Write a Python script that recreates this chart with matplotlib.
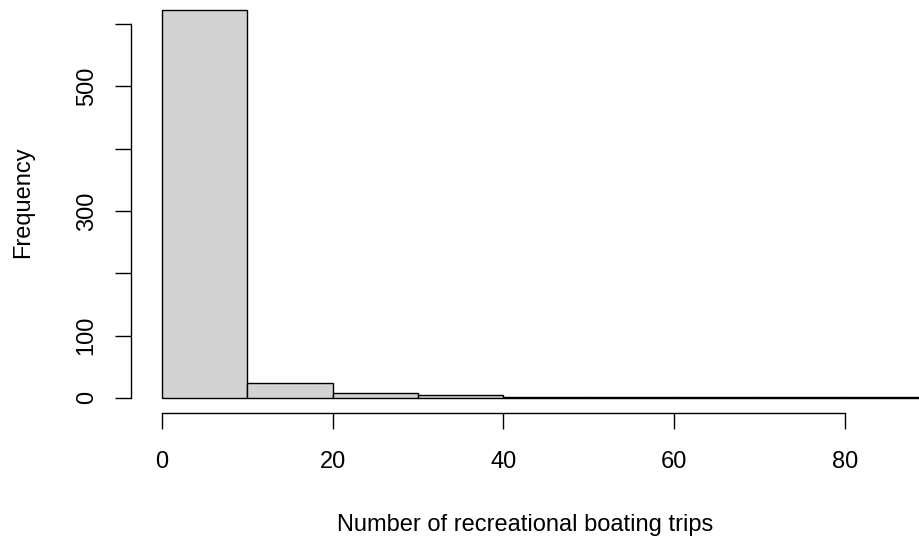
import matplotlib
matplotlib.use("Agg")
import matplotlib.pyplot as plt

# data: histogram bins (left edges) and counts
bin_edges = [0, 10, 20, 30, 40, 50, 60, 70, 80, 90]
counts = [622, 24, 7, 4, 2, 1, 1, 1, 2]
x_ticks = [0, 20, 40, 60, 80]
y_ticks = [0, 100, 200, 300, 400, 500, 600]
y_tick_labels = ["0", "100", "", "300", "", "500", ""]
x_label = "Number of recreational boating trips"
y_label = "Frequency"

plt.rcParams['font.family'] = ['Liberation Sans', 'DejaVu Sans']
FS = 17

fig = plt.figure(figsize=(9.2, 5.4), dpi=100)
W, H = 920, 540
left_px, right_px = 131, 961
bottom_px, top_px = 413.3, -5
ax = fig.add_axes([left_px / W, 1 - bottom_px / H,
                   (right_px - left_px) / W, (bottom_px - top_px) / H])

widths = [bin_edges[i + 1] - bin_edges[i] for i in range(len(counts))]
ax.bar(bin_edges[:-1], counts, width=widths, align='edge',
       color='#d3d3d3', edgecolor='black', linewidth=1.0)

xr = bin_edges[-1] - bin_edges[0]
ax.set_xlim(bin_edges[0] - 0.04 * xr, bin_edges[-1] + 0.04 * xr)
yr = max(counts)
ax.set_ylim(-0.04 * yr, yr * 1.04)

for s in ['top', 'right']:
    ax.spines[s].set_visible(False)
ax.spines['left'].set_bounds(y_ticks[0], y_ticks[-1])
ax.spines['bottom'].set_bounds(x_ticks[0], x_ticks[-1])
for s in ['left', 'bottom']:
    ax.spines[s].set_linewidth(1.0)

ax.set_xticks(x_ticks)
ax.set_xticklabels([str(v) for v in x_ticks])
ax.set_yticks(y_ticks)
ax.set_yticklabels(y_tick_labels, rotation=90, va='center')
ax.tick_params(axis='both', length=11.5, width=1.0, labelsize=FS, colors='black')
ax.tick_params(axis='x', pad=16)
ax.tick_params(axis='y', pad=12.5)

fig.text(23 / W, 1 - 202.5 / H, y_label, rotation=90, ha='center', va='center', fontsize=FS)
fig.text(525 / W, 1 - 524.5 / H, x_label, ha='center', va='center', fontsize=FS)

fig.savefig("out.png", dpi=100)
